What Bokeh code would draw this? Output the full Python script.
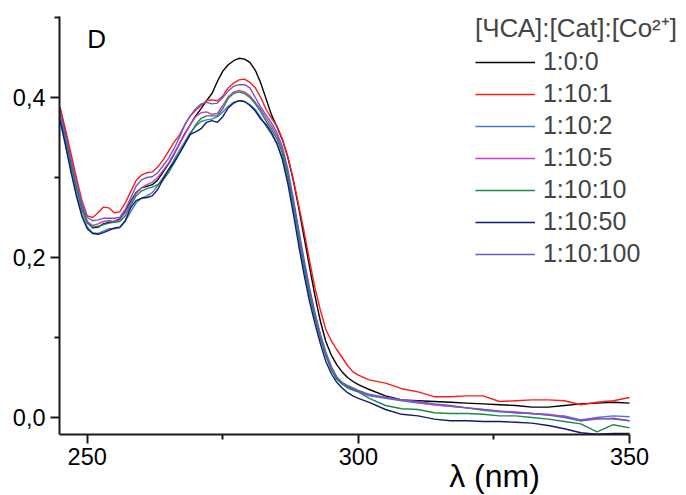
from bokeh.plotting import figure
from bokeh.models import FixedTicker, Label
from bokeh.embed import file_html
from bokeh.resources import INLINE

wavelength = [245, 246, 247, 248, 249, 250, 251, 252, 253, 254, 255, 256, 257, 258, 259,
              260, 261, 262, 263, 264, 265, 266, 267, 268, 269, 270, 271, 272, 273, 274,
              275, 276, 277, 278, 279, 280, 281, 282, 283, 284, 285, 286, 287, 288, 289,
              290, 291, 292, 293, 294, 295, 296, 297, 298, 299, 300,
              302, 305, 308, 311, 314, 317, 320, 323, 326, 329, 332, 335, 338, 341, 344, 347, 350]

s_1_0_0 = [0.385, 0.355, 0.322, 0.290, 0.263, 0.245, 0.237, 0.238, 0.242, 0.244, 0.245, 0.248, 0.258, 0.270, 0.281,
           0.287, 0.289, 0.291, 0.297, 0.307, 0.317, 0.329, 0.342, 0.355, 0.366, 0.377, 0.386, 0.396, 0.405, 0.420,
           0.433, 0.441, 0.446, 0.449, 0.448, 0.444, 0.434, 0.418, 0.398, 0.378, 0.363, 0.347, 0.325, 0.296, 0.262,
           0.225, 0.188, 0.152, 0.120, 0.095, 0.078, 0.066, 0.057, 0.050, 0.045, 0.041,
           0.035, 0.027, 0.022, 0.021, 0.020, 0.019, 0.018, 0.017, 0.016, 0.015, 0.013, 0.013, 0.015, 0.017, 0.018, 0.019, 0.018]

s_1_10_1 = [0.388, 0.360, 0.330, 0.300, 0.272, 0.252, 0.250, 0.256, 0.263, 0.262, 0.256, 0.257, 0.268, 0.282, 0.296,
            0.303, 0.306, 0.307, 0.313, 0.322, 0.333, 0.344, 0.353, 0.366, 0.377, 0.384, 0.390, 0.396, 0.397, 0.396,
            0.402, 0.412, 0.418, 0.422, 0.423, 0.419, 0.412, 0.400, 0.385, 0.374, 0.364, 0.348, 0.326, 0.298, 0.265,
            0.232, 0.196, 0.162, 0.134, 0.110, 0.096, 0.085, 0.075, 0.065, 0.057, 0.053,
            0.047, 0.043, 0.036, 0.032, 0.026, 0.026, 0.027, 0.027, 0.020, 0.021, 0.022, 0.022, 0.021, 0.016, 0.019, 0.021, 0.025]

s_1_10_2 = [0.372, 0.342, 0.310, 0.280, 0.254, 0.238, 0.231, 0.230, 0.233, 0.236, 0.236, 0.237, 0.245, 0.257, 0.268,
            0.274, 0.277, 0.281, 0.290, 0.300, 0.310, 0.322, 0.334, 0.345, 0.356, 0.364, 0.370, 0.372, 0.373, 0.376,
            0.382, 0.389, 0.394, 0.396, 0.395, 0.391, 0.385, 0.375, 0.364, 0.354, 0.342, 0.325, 0.298, 0.262, 0.222,
            0.185, 0.152, 0.124, 0.098, 0.077, 0.060, 0.048, 0.042, 0.037, 0.034, 0.032,
            0.027, 0.024, 0.021, 0.018, 0.016, 0.014, 0.012, 0.009, 0.007, 0.006, 0.005, 0.003, 0.002, -0.003, 0.000, 0.002, 0.001]

s_1_10_5 = [0.380, 0.350, 0.318, 0.289, 0.262, 0.245, 0.240, 0.242, 0.245, 0.246, 0.245, 0.247, 0.256, 0.268, 0.280,
            0.287, 0.291, 0.294, 0.300, 0.309, 0.318, 0.330, 0.342, 0.354, 0.366, 0.376, 0.381, 0.382, 0.379, 0.380,
            0.390, 0.401, 0.407, 0.409, 0.407, 0.402, 0.394, 0.385, 0.374, 0.364, 0.352, 0.334, 0.306, 0.270, 0.231,
            0.193, 0.159, 0.129, 0.102, 0.080, 0.062, 0.050, 0.043, 0.039, 0.036, 0.033,
            0.028, 0.025, 0.022, 0.019, 0.016, 0.014, 0.012, 0.010, 0.008, 0.007, 0.005, 0.004, 0.001, -0.004, -0.001, -0.002, -0.004]

s_1_10_10 = [0.378, 0.348, 0.316, 0.287, 0.260, 0.243, 0.238, 0.239, 0.241, 0.243, 0.244, 0.245, 0.252, 0.265, 0.277,
             0.283, 0.286, 0.288, 0.291, 0.297, 0.306, 0.318, 0.330, 0.342, 0.354, 0.366, 0.374, 0.377, 0.377, 0.377,
             0.386, 0.399, 0.405, 0.407, 0.405, 0.400, 0.392, 0.382, 0.370, 0.360, 0.348, 0.330, 0.303, 0.268, 0.229,
             0.190, 0.156, 0.126, 0.100, 0.078, 0.060, 0.048, 0.042, 0.038, 0.035, 0.032,
             0.024, 0.015, 0.011, 0.010, 0.006, 0.005, 0.005, 0.004, 0.002, 0.002, 0.000, -0.002, -0.005, -0.008, -0.018, -0.009, -0.013]

s_1_10_50 = [0.371, 0.340, 0.307, 0.277, 0.252, 0.236, 0.230, 0.229, 0.231, 0.234, 0.237, 0.238, 0.246, 0.262, 0.271,
             0.274, 0.275, 0.277, 0.285, 0.298, 0.310, 0.319, 0.330, 0.342, 0.354, 0.357, 0.361, 0.369, 0.371, 0.369,
             0.376, 0.387, 0.393, 0.396, 0.395, 0.390, 0.383, 0.373, 0.366, 0.356, 0.342, 0.322, 0.292, 0.255, 0.215,
             0.178, 0.145, 0.117, 0.092, 0.070, 0.055, 0.044, 0.037, 0.031, 0.027, 0.024,
             0.019, 0.010, 0.004, 0.002, -0.002, -0.004, -0.004, -0.005, -0.005, -0.006, -0.007, -0.010, -0.014, -0.019, -0.021, -0.020, -0.020]

s_1_10_100 = [0.382, 0.353, 0.322, 0.294, 0.268, 0.250, 0.246, 0.247, 0.249, 0.249, 0.249, 0.250, 0.260, 0.274, 0.289,
              0.297, 0.300, 0.301, 0.306, 0.315, 0.324, 0.336, 0.350, 0.366, 0.377, 0.386, 0.392, 0.394, 0.392, 0.393,
              0.400, 0.408, 0.414, 0.416, 0.416, 0.412, 0.400, 0.388, 0.378, 0.368, 0.356, 0.338, 0.310, 0.274, 0.235,
              0.197, 0.162, 0.131, 0.104, 0.082, 0.064, 0.051, 0.044, 0.040, 0.037, 0.034,
              0.029, 0.025, 0.022, 0.020, 0.017, 0.015, 0.012, 0.010, 0.008, 0.006, 0.005, 0.003, 0.000, -0.004, -0.002, -0.001, -0.004]

series_labels = ["1:0:0", "1:10:1", "1:10:2", "1:10:5", "1:10:10", "1:10:50", "1:10:100"]
series_values = [s_1_0_0, s_1_10_1, s_1_10_2, s_1_10_5, s_1_10_10, s_1_10_50, s_1_10_100]
series_colors = ["#000000", "#ff1a1a", "#4a78c8", "#c83cc8", "#1a8a44", "#101c70", "#6a5ac8"]

x_ticks = [250, 300, 350]
x_minor = [275, 325]
y_ticks = [0.0, 0.2, 0.4]
y_tick_labels = {0.0: "0,0", 0.2: "0,2", 0.4: "0,4"}
y_minor = [0.1, 0.3, 0.5]

FONT = "Liberation Sans"
X_MIN, X_MAX, X_AXIS_END = 244.89, 360.5, 350
Y_MIN, Y_MAX, Y_AXIS_BOTTOM, Y_AXIS_TOP = -0.0975, 0.52125, -0.02125, 0.501

p = figure(width=686, height=495, x_range=(X_MIN, X_MAX), y_range=(Y_MIN, Y_MAX),
           output_backend="svg", toolbar_location=None,
           min_border_left=59, min_border_right=0, min_border_top=0, min_border_bottom=0)
p.outline_line_color = None
p.xgrid.visible = False
p.ygrid.visible = False
p.background_fill_color = "white"
p.border_fill_color = "white"

for lab, vals, col in zip(series_labels, series_values, series_colors):
    p.line(wavelength, vals, line_color=col, line_width=1.4, legend_label=lab)

for ax in (p.xaxis[0], p.yaxis[0]):
    ax.axis_line_width = 2
    ax.axis_line_color = "#1a1a1a"
    ax.major_tick_line_width = 2
    ax.minor_tick_line_width = 2
    ax.major_tick_line_color = "#1a1a1a"
    ax.minor_tick_line_color = "#1a1a1a"
    ax.major_tick_in = 0
    ax.major_tick_out = 9
    ax.minor_tick_in = 0
    ax.minor_tick_out = 5
    ax.major_label_text_font = FONT
    ax.major_label_text_font_size = "23.5px"
    ax.major_label_text_color = "black"

p.xaxis.ticker = FixedTicker(ticks=x_ticks, minor_ticks=x_minor)
p.yaxis.ticker = FixedTicker(ticks=y_ticks, minor_ticks=y_minor)
p.yaxis.major_label_overrides = y_tick_labels
p.xaxis.major_label_standoff = 4
p.yaxis.major_label_standoff = 5
p.xaxis.bounds = (X_MIN, X_AXIS_END)
p.yaxis.bounds = (Y_AXIS_BOTTOM, Y_AXIS_TOP)
p.xaxis.fixed_location = Y_AXIS_BOTTOM

leg = p.legend[0]
leg.location = "top_right"
leg.title = "[ЧСА]:[Cat]:[Co²⁺]"
leg.title_text_font = FONT
leg.title_text_font_size = "26px"
leg.title_text_font_style = "normal"
leg.title_standoff = 2
leg.label_text_font = FONT
leg.label_text_font_size = "25px"
leg.glyph_width = 60
leg.glyph_height = 26
leg.label_height = 26
leg.label_standoff = 8
leg.spacing = 3
leg.padding = 0
leg.margin = 9
leg.border_line_color = None
leg.background_fill_alpha = 0

p.add_layout(Label(x=250.0, y=0.4734, text="D", text_font=FONT, text_font_size="26px",
                   text_baseline="alphabetic", text_align="left", text_color="black"))
p.add_layout(Label(x=325.1, y=-0.0731, text="λ (nm)", text_font=FONT, text_font_size="32px",
                   text_baseline="alphabetic", text_align="center", text_color="black"))

open("out.html", "w").write(file_html(p, INLINE))
